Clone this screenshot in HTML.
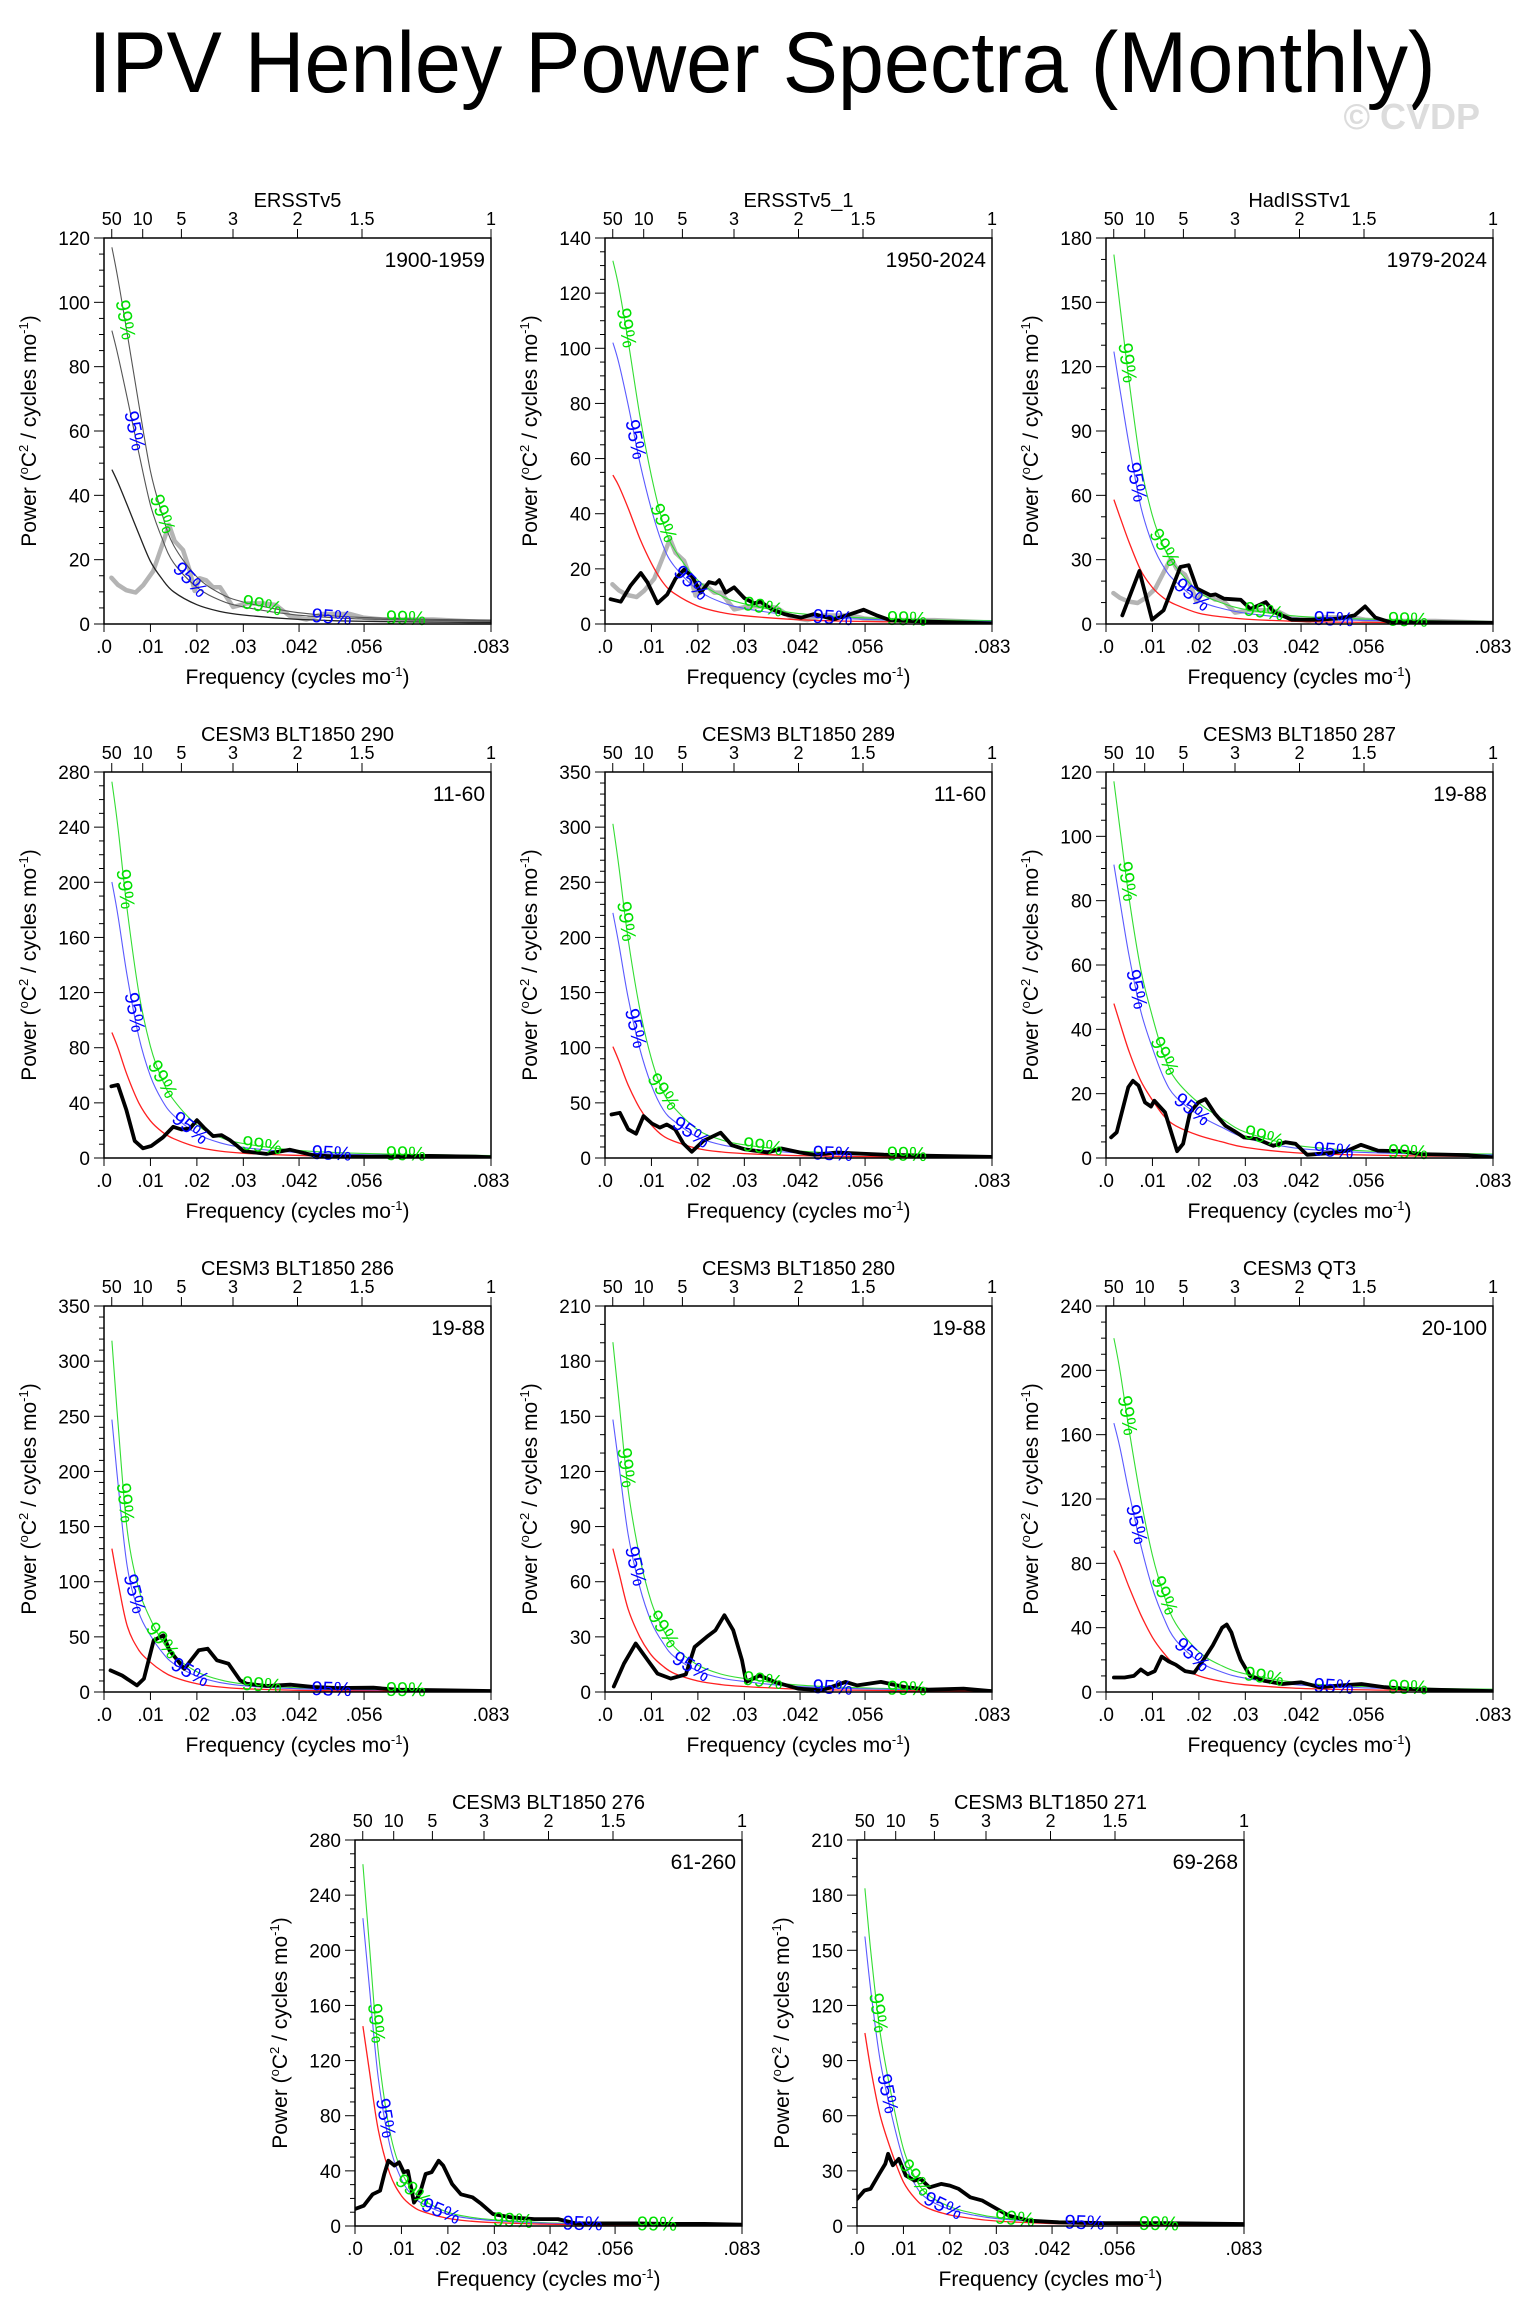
<!DOCTYPE html>
<html>
<head>
<meta charset="utf-8">
<style>
html,body{margin:0;padding:0;background:#fff;}
svg{display:block;font-family:"Liberation Sans",Arial,sans-serif;}
</style>
</head>
<body>
<svg id="fig" xmlns="http://www.w3.org/2000/svg" width="1523" height="2319" viewBox="0 0 1523 2319">
<rect x="0" y="0" width="1523" height="2319" fill="#fff"/>
<text x="762" y="92" font-size="86" text-anchor="middle" textLength="1347" lengthAdjust="spacingAndGlyphs" fill="#000">IPV Henley Power Spectra (Monthly)</text>
<text x="1480" y="129" font-size="36" font-weight="bold" text-anchor="end" fill="#dcdcdc">© CVDP</text>
<g id="panels"></g>
</svg>
<script>
// ---------- data ----------
const theoryFreq=[0.0017,0.003,0.005,0.0075,0.01,0.0125,0.015,0.02,0.025,0.03,0.04,0.05,0.06,0.07,0.0833];

const ersstFreq=[0.0016,0.003,0.0048,0.0068,0.0084,0.0106,0.0124,0.014,0.0152,0.017,0.0185,0.0195,0.0206,0.022,0.0235,0.025,0.0278,0.0307,0.0343,0.037,0.040,0.0436,0.047,0.053,0.0558,0.060,0.0709,0.078,0.0833];
const ersstPower=[14.4,12.2,10.5,9.8,12,16.4,24,30.8,25.8,23,16.4,10.3,14.2,13.6,11.4,11.4,5.3,6.4,6.4,5.9,2.5,1.4,3.1,3.1,2,1.4,1.4,0.9,0.5];

const p1Red=[48,44,37,28,19.5,14,10,6,3.9,2.8,1.6,1.0,0.75,0.6,0.5];
const p2Red=[54,50,42,31,22,15,11,6.5,4.2,3,1.7,1.1,0.8,0.6,0.5];
const p3Red=[58,50,38,25,17,12,9,5,3.3,2.3,1.3,0.9,0.7,0.5,0.4];
const p4Red=[91,80,60,40,27,19,14,8,5,3.5,2,1.3,1,0.8,0.6];
const p5Red=[101,88,66,45,30,20,15,8.5,5.5,4,2.3,1.5,1.1,0.9,0.7];
const p6Red=[48,42,33,24,18,13,10,7,5,3.3,1.7,1.1,0.8,0.6,0.5];
const p7Red=[130,100,60,38,27,19,13.5,7.5,4.5,3,1.7,1.1,0.8,0.6,0.5];
const p8Red=[78,65,45,30,20,14,10,6,4,3,1.7,1.1,0.8,0.6,0.5];
const p9Red=[88,80,65,48,34,24,17,10,6.5,4.5,2.5,1.6,1.2,0.9,0.7];
const p10Red=[145,115,70,38,22,14,10,5.5,3.5,2.5,1.4,0.9,0.7,0.5,0.4];
const p11Red=[105,85,60,40,24,15,10,6,4,2.7,1.5,1,0.7,0.5,0.4];

const sig95Ratio=[1.9,1.89,2.19,2.2,2.2,1.9,1.9,1.9,1.9,1.54,1.5];
const sig99Ratio=[2.44,2.44,2.97,3.0,3.0,2.44,2.45,2.44,2.5,1.81,1.75];

const p2Freq=[0.0012,0.0034,0.0055,0.0077,0.0091,0.0113,0.0134,0.0152,0.017,0.0188,0.0206,0.0224,0.0238,0.0246,0.026,0.0278,0.03,0.0321,0.0335,0.0357,0.0386,0.0422,0.045,0.0493,0.0529,0.0557,0.0587,0.0615,0.0709,0.0833];
const p2Power=[9,8.1,13.9,18.5,15.2,7.5,10.7,16.5,19.7,17.2,11.4,15.2,14.6,15.9,11.4,13.3,9.4,7.5,8.1,5.5,3.6,2.3,3.6,1.7,3.6,5.2,3,1.3,0.8,0.2];

const p3Freq=[0.0035,0.0072,0.0099,0.0124,0.016,0.0178,0.0196,0.0225,0.0236,0.0254,0.029,0.0311,0.0344,0.0362,0.040,0.045,0.050,0.0535,0.0558,0.058,0.061,0.070,0.0833];
const p3Power=[4,24.7,2,6.4,26.6,27.4,16.5,13.4,13.8,11.8,11.3,7,10.2,5.6,2,2,2.5,4,8.2,3,1,0.8,0.5];

const p4Freq=[0.0016,0.003,0.0048,0.0066,0.0084,0.0102,0.0127,0.0149,0.0167,0.0185,0.02,0.0217,0.0235,0.0253,0.0271,0.0285,0.030,0.035,0.040,0.045,0.050,0.060,0.070,0.080,0.0833];
const p4Power=[52,53,35,12.4,7,8.8,15,22.6,20.7,21.4,27.4,21.4,15.9,16.6,13,9.3,5,3,6,2,1,1,1.5,1,0.5];

const p5Freq=[0.0014,0.0032,0.005,0.0067,0.0083,0.0101,0.0118,0.0133,0.0151,0.0169,0.0187,0.0212,0.0249,0.0273,0.030,0.035,0.038,0.042,0.045,0.050,0.055,0.060,0.070,0.0833];
const p5Power=[39.4,41,26,22,38,31.3,27.6,30.4,26,13,5.6,15.6,22.9,11.6,8,5,8.6,5,3,5,4,3,2,1];

const p6Freq=[0.0011,0.0023,0.0048,0.0058,0.007,0.0084,0.0097,0.0104,0.0127,0.0153,0.0166,0.0181,0.0199,0.0214,0.0235,0.0257,0.0275,0.0297,0.0325,0.036,0.0387,0.0408,0.0433,0.0477,0.052,0.0549,0.0585,0.0635,0.0678,0.0779,0.0833];
const p6Power=[6.4,8,22,24,22.5,17.3,16,17.8,14.2,2.1,4.4,14.2,17.3,18.3,13.7,10,8.5,6.4,5.9,3.8,4.9,4.4,1,1.5,2.3,4.1,2.3,2.1,1.2,0.9,0.2];

const p7Freq=[0.0014,0.0039,0.0071,0.0086,0.0107,0.0128,0.0141,0.0173,0.0204,0.0223,0.0243,0.0268,0.0293,0.0306,0.035,0.0401,0.0452,0.0503,0.058,0.063,0.0731,0.0833];
const p7Power=[19.6,15,6,12,46.8,51.4,37.8,21,37.8,39.3,28.7,25.7,10.6,7.6,5.4,6.6,4.5,3.6,3.9,2.1,1.5,0.9];

const p8Freq=[0.0019,0.0041,0.0066,0.0092,0.0113,0.0142,0.0174,0.0193,0.0219,0.0238,0.0257,0.0276,0.0295,0.0304,0.0333,0.0365,0.0416,0.0467,0.0518,0.0543,0.0594,0.0645,0.0696,0.0772,0.0833];
const p8Power=[3,15.5,26.4,17.3,10,7.3,9.6,24.5,30,33.6,41.8,33.6,17.3,5.5,9,5.5,1.8,0.9,5.5,3.6,5.5,2.7,1.3,1.8,0.5];

const p9Freq=[0.0017,0.004,0.006,0.0075,0.009,0.0105,0.012,0.0135,0.015,0.017,0.019,0.021,0.023,0.025,0.026,0.027,0.028,0.029,0.031,0.034,0.038,0.042,0.046,0.05,0.055,0.06,0.065,0.07,0.0833];
const p9Power=[9,9,10,14,11,13,22,19,17,13,12,20,29,40,42,37,28,20,10,7,5,6,3,4,5,3,2,1.5,0.5];

const p10Freq=[0.0,0.0019,0.0038,0.0054,0.0063,0.0072,0.0085,0.0095,0.0105,0.0114,0.0127,0.0139,0.0152,0.0165,0.018,0.019,0.0209,0.0228,0.0253,0.0272,0.0297,0.0335,0.0386,0.0437,0.0475,0.0538,0.0601,0.0678,0.0753,0.0833];
const p10Power=[12.3,14.7,23,25.6,37.7,47.4,43.8,46.2,39,40,17,23,37.7,39,47.4,43.8,30.5,23,20.8,16,8.7,6.3,5,5,1.9,1.9,1.9,1.5,1.5,1];

const p11Freq=[0.0,0.0016,0.0029,0.0048,0.0061,0.0067,0.0077,0.009,0.0105,0.0124,0.0137,0.0156,0.0181,0.02,0.0219,0.0244,0.027,0.0301,0.0327,0.0371,0.0434,0.0536,0.0662,0.0833];
const p11Power=[14.7,19.3,20.2,28.4,33.8,39.3,33,36.5,27.5,24.7,25.6,21,22.9,22,20.2,15.6,13.8,9.3,5.6,2.9,2,1.5,1.5,1.1];

const panelTitles=["ERSSTv5","ERSSTv5_1","HadISSTv1","CESM3 BLT1850 290","CESM3 BLT1850 289","CESM3 BLT1850 287","CESM3 BLT1850 286","CESM3 BLT1850 280","CESM3 QT3","CESM3 BLT1850 276","CESM3 BLT1850 271"];
const panelRanges=["1900-1959","1950-2024","1979-2024","11-60","11-60","19-88","19-88","19-88","20-100","61-260","69-268"];
const yMax=[120,140,180,280,350,120,350,210,240,280,210];
const yStep=[20,20,30,40,50,20,50,30,40,40,30];
const yMinor=[5,5,10,10,10,5,10,10,10,10,10];
const redSeries=[p1Red,p2Red,p3Red,p4Red,p5Red,p6Red,p7Red,p8Red,p9Red,p10Red,p11Red];
const specFreq=[null,p2Freq,p3Freq,p4Freq,p5Freq,p6Freq,p7Freq,p8Freq,p9Freq,p10Freq,p11Freq];
const specPower=[null,p2Power,p3Power,p4Power,p5Power,p6Power,p7Power,p8Power,p9Power,p10Power,p11Power];
const showObsOverlay=[true,true,true,false,false,false,false,false,false,false,false];

const xTickVals=[0,0.01,0.02,0.03,0.042,0.056,0.08333];
const xTickLabels=[".0",".01",".02",".03",".042",".056",".083"];
const periodVals=[50,10,5,3,2,1.5,1];
const periodLabels=["50","10","5","3","2","1.5","1"];

// ---------- layout ----------
const W=387,H=386,FMAX=0.08333;
const layout=[[104,238],[605,238],[1106,238],[104,772],[605,772],[1106,772],[104,1306],[605,1306],[1106,1306],[355,1840],[857,1840]];

const NS="http://www.w3.org/2000/svg";
const root=document.getElementById('panels');
function mk(tag,attrs,parent){const e=document.createElementNS(NS,tag);for(const k in attrs)e.setAttribute(k,attrs[k]);(parent||root).appendChild(e);return e;}

function smoothPath(pts){
  if(pts.length<2)return "";
  let d="M"+pts[0][0].toFixed(1)+","+pts[0][1].toFixed(1);
  for(let i=0;i<pts.length-1;i++){
    const p0=pts[Math.max(0,i-1)],p1=pts[i],p2=pts[i+1],p3=pts[Math.min(pts.length-1,i+2)];
    const c1x=p1[0]+(p2[0]-p0[0])/6,c1y=p1[1]+(p2[1]-p0[1])/6;
    const c2x=p2[0]-(p3[0]-p1[0])/6,c2y=p2[1]-(p3[1]-p1[1])/6;
    d+=" C"+c1x.toFixed(1)+","+c1y.toFixed(1)+" "+c2x.toFixed(1)+","+c2y.toFixed(1)+" "+p2[0].toFixed(1)+","+p2[1].toFixed(1);
  }
  return d;
}
function linePath(pts){return pts.map((p,i)=>(i?"L":"M")+p[0].toFixed(1)+","+p[1].toFixed(1)).join(" ");}
function interp(xs,ys,x){
  if(x<=xs[0])return ys[0];
  for(let i=0;i<xs.length-1;i++){if(x<=xs[i+1]){const t=(x-xs[i])/(xs[i+1]-xs[i]);return ys[i]+t*(ys[i+1]-ys[i]);}}
  return ys[ys.length-1];
}

layout.forEach((pos,idx)=>{
  const X=pos[0],Y=pos[1];
  const ymax=yMax[idx];
  const sx=f=>X+f/FMAX*W;
  const sy=v=>Y+H-v/ymax*H;
  const g=mk('g',{});
  
  
  const clipId='clip'+idx;
  const cp=mk('clipPath',{id:clipId},g);
  mk('rect',{x:X,y:Y,width:W,height:H},cp);

  // title
  const t=mk('text',{x:X+W/2,y:Y-31,'font-size':20,'text-anchor':'middle',fill:'#000'},g);
  t.textContent=panelTitles[idx];
  
  

  // y ticks
  for(let v=0;v<=ymax+1e-9;v+=yMinor[idx]){
    const major=Math.abs(v/yStep[idx]-Math.round(v/yStep[idx]))<1e-6;
    mk('line',{x1:X-(major?10:5),x2:X,y1:sy(v),y2:sy(v),stroke:'#000','stroke-width':1},g);
    if(major){
      const tl=mk('text',{x:X-14,y:sy(v)+7,'font-size':19,'text-anchor':'end',fill:'#000'},g);
      tl.textContent=String(Math.round(v));
      
      
    }
  }
  // bottom ticks
  xTickVals.forEach((f,i)=>{
    mk('line',{x1:sx(f),x2:sx(f),y1:Y+H,y2:Y+H+8,stroke:'#000','stroke-width':1},g);
    const tl=mk('text',{x:sx(f),y:Y+H+29,'font-size':19,'text-anchor':'middle',fill:'#000'},g);
    tl.textContent=xTickLabels[i];
    
    
  });
  // top period ticks
  periodVals.forEach((p,i)=>{
    const f=1/(12*p);
    mk('line',{x1:sx(f),x2:sx(f),y1:Y,y2:Y-9,stroke:'#000','stroke-width':1},g);
    const tl=mk('text',{x:sx(f),y:Y-13,'font-size':18,'text-anchor':'middle',fill:'#000'},g);
    tl.textContent=periodLabels[i];
    
    
  });

  // axis titles
  const xt=mk('text',{x:X+W/2,y:Y+H+60,'font-size':21,'text-anchor':'middle',fill:'#000'},g);
  xt.innerHTML='Frequency (cycles mo<tspan dy="-8" font-size="13">-1</tspan><tspan dy="8">)</tspan>';
  
  
  const yt=mk('text',{x:0,y:0,'font-size':21,'text-anchor':'middle',fill:'#000',transform:'translate('+(X-68)+','+(Y+H/2)+') rotate(-90)'},g);
  yt.innerHTML='Power (<tspan dy="-8" font-size="13">o</tspan><tspan dy="8">C</tspan><tspan dy="-8" font-size="13">2</tspan><tspan dy="8"> / cycles mo</tspan><tspan dy="-8" font-size="13">-1</tspan><tspan dy="8">)</tspan>';
  
  

  // range label
  const rl=mk('text',{x:X+W-6,y:Y+29,'font-size':21,'text-anchor':'end',fill:'#000'},g);
  rl.textContent=panelRanges[idx];
  
  

  const plot=mk('g',{'clip-path':'url(#'+clipId+')'},g);
  const mono=idx===0;
  const red=redSeries[idx];
  const r95=sig95Ratio[idx],r99=sig99Ratio[idx];
  const redPts=theoryFreq.map((f,i)=>[sx(f),sy(red[i])]);
  const p95=theoryFreq.map((f,i)=>[sx(f),sy(red[i]*r95)]);
  const p99=theoryFreq.map((f,i)=>[sx(f),sy(red[i]*r99)]);

  // obs overlay (gray)
  if(showObsOverlay[idx]){
    const gp=mk('path',{d:linePath(ersstFreq.map((f,i)=>[sx(f),sy(ersstPower[i])])),fill:'none',stroke:'#b4b4b4','stroke-width':4.5,'stroke-linejoin':'round','stroke-linecap':'round'},plot);
    
    
  }
  const c99=mk('path',{d:smoothPath(p99),fill:'none',stroke:mono?'#555':'#33dd33','stroke-width':1.1},plot);
  
  
  const c95=mk('path',{d:smoothPath(p95),fill:'none',stroke:mono?'#555':'#5a5aff','stroke-width':1.1},plot);
  
  
  const rn=mk('path',{d:smoothPath(redPts),fill:'none',stroke:mono?'#222':'#ff2020','stroke-width':1.3},plot);
  
  

  if(specFreq[idx]){
    const sp=mk('path',{d:linePath(specFreq[idx].map((f,i)=>[sx(f),sy(specPower[idx][i])])),fill:'none',stroke:'#000','stroke-width':3.8,'stroke-linejoin':'round','stroke-linecap':'round'},plot);
    
    
  }

  // curve labels
  const lbls=[[0.0045,99],[0.0065,95],[0.0125,99],[0.0185,95],[0.034,99],[0.049,95],[0.065,99]];
  lbls.forEach(l=>{
    const f=l[0],k=l[1]===99?r99:r95;
    const v=interp(theoryFreq,red,f)*k;
    const v2=interp(theoryFreq,red,f+0.0008)*k;
    const x1=sx(f),y1=sy(v),x2=sx(f+0.0008),y2=sy(v2);
    let ang=Math.atan2(y2-y1,x2-x1)*180/Math.PI;
    const tx=mk('text',{x:0,y:0,'font-size':20,'text-anchor':'middle','dominant-baseline':'central',fill:l[1]===99?'#00e000':'#0000ff',transform:'translate('+x1.toFixed(1)+','+y1.toFixed(1)+') rotate('+ang.toFixed(1)+')'},g);
    tx.textContent=l[1]+'%';
    
    
  });

  // frame
  const fr=mk('rect',{x:X,y:Y,width:W,height:H,fill:'none',stroke:'#000','stroke-width':1.5},g);
  
  
});
</script>
</body>
</html>
